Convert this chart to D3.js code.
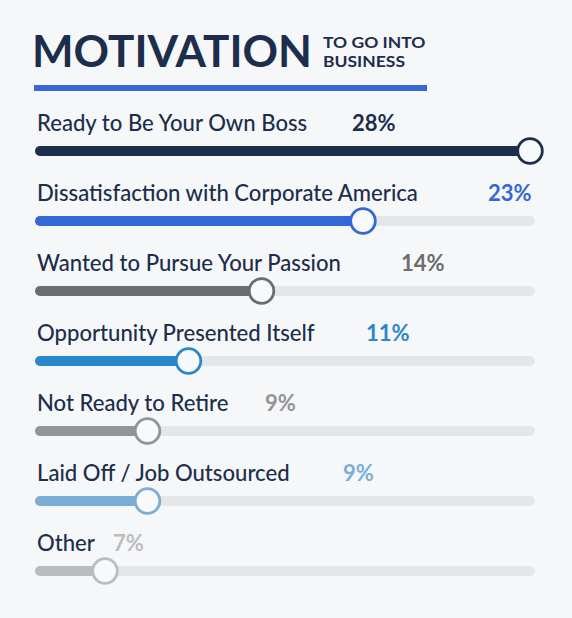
<!DOCTYPE html>
<html>
<head>
<meta charset="utf-8">
<script src="https://cdn.jsdelivr.net/npm/d3@7"></script>
<style>
  html, body { margin: 0; padding: 0; background: #f6f7f9; }
  svg { display: block; font-family: Lato, "Noto Sans", sans-serif; }
</style>
</head>
<body>
<svg id="chart" width="572" height="618"></svg>
<script>
// ---- data ----
const categories = [
  "Ready to Be Your Own Boss",
  "Dissatisfaction with Corporate America",
  "Wanted to Pursue Your Passion",
  "Opportunity Presented Itself",
  "Not Ready to Retire",
  "Laid Off / Job Outsourced",
  "Other"
];
const percentValues = [28, 23, 14, 11, 9, 9, 7];
// drawn length of each bar, as % of the full track
const fillLevels = [99, 65.6, 45.3, 30.7, 22.5, 22.5, 14];
const barColors = ["#1c2e4b", "#3368d6", "#6b6c6e", "#2a88ca", "#939496", "#7aaed7", "#bbbcbe"];
// horizontal position of each value label, as % of track
const valueLabelPos = [63.4, 90.6, 73.2, 66.2, 46.0, 61.6, 15.6];

const titleMain = "MOTIVATION";
const titleSub = ["TO GO INTO", "BUSINESS"];

// ---- drawing ----
const svg = d3.select("#chart");
const trackX0 = 35, trackX1 = 535;
const x = d3.scaleLinear().domain([0, 100]).range([trackX0, trackX1]);
const y = d3.scaleBand().domain(categories).range([116, 606]).paddingInner(0).paddingOuter(0);
const trackH = 10;

// title
svg.append("text")
  .attr("x", 32).attr("y", 67)
  .attr("font-size", 44).attr("font-weight", 700)
  .attr("fill", "#1c2e4b")
  .text(titleMain);

svg.append("g")
  .attr("transform", "translate(323,0) scale(1.13,1)")
  .selectAll("text").data(titleSub).join("text")
  .attr("x", 0).attr("y", (d, i) => 48 + i * 18.8)
  .attr("font-size", 15.5).attr("font-weight", 700)
  .attr("fill", "#1c2e4b")
  .text(d => d);

svg.append("rect")
  .attr("x", 34).attr("y", 85).attr("width", 393).attr("height", 6)
  .attr("fill", "#3368d6");

const rows = svg.selectAll("g.row")
  .data(categories.map((c, i) => ({ c, v: percentValues[i], f: fillLevels[i], col: barColors[i], lp: valueLabelPos[i] })))
  .join("g")
  .attr("class", "row")
  .attr("transform", d => `translate(0,${y(d.c) + 35})`);

rows.append("rect")
  .attr("x", x(0)).attr("y", -trackH / 2)
  .attr("width", x(100) - x(0)).attr("height", trackH)
  .attr("rx", trackH / 2)
  .attr("fill", "#e5e6e8");

rows.append("rect")
  .attr("x", x(0)).attr("y", -trackH / 2)
  .attr("width", d => x(d.f) - x(0)).attr("height", trackH)
  .attr("rx", trackH / 2)
  .attr("fill", d => d.col);

rows.append("circle")
  .attr("cx", d => x(d.f)).attr("cy", 0)
  .attr("r", 12.3)
  .attr("fill", "#f8f9fb")
  .attr("stroke", d => d.col)
  .attr("stroke-width", 2.8);

rows.append("text")
  .attr("x", 37).attr("y", -20)
  .attr("font-size", 22.1).attr("font-weight", 500)
  .attr("fill", "#1c2e4b")
  .text(d => d.c);

rows.append("text")
  .attr("x", d => x(d.lp)).attr("y", -20)
  .attr("font-size", 22).attr("font-weight", 700)
  .attr("fill", d => d.col)
  .text(d => d.v + "%");
</script>
</body>
</html>
